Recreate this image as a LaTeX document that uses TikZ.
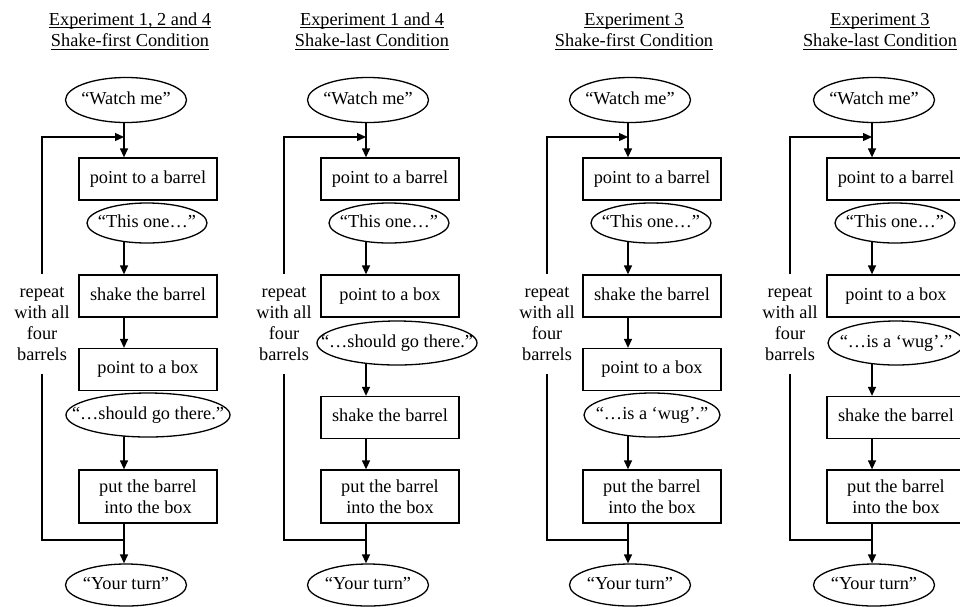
\documentclass[tikz,border=0pt]{standalone}
\usepackage{fontspec}
\setmainfont{Liberation Serif}
\usetikzlibrary{shapes.geometric,arrows.meta,calc}
\pgfdeclarelayer{bg}
\pgfsetlayers{bg,main}
\newcommand\ovt[1]{\makebox[0pt]{#1}}
\begin{document}
\begin{tikzpicture}[x=1pt,y=-1pt,
  every node/.style={font=\fontsize{18.3}{21}\selectfont},
  box/.style={draw, line width=1.3pt, fill=white, minimum width=138pt, minimum height=42pt, inner sep=0pt, text height=12.5pt, text depth=4.5pt},
  boxtwo/.style={draw, line width=1.3pt, fill=white, minimum width=138pt, minimum height=53pt, inner sep=0pt, align=center},
  oval/.style={draw, ellipse, line width=1.3pt, fill=white, inner sep=0pt, minimum height=42pt, text height=12.5pt, text depth=4.5pt},
  ttl/.style={anchor=base, inner sep=0pt},
  uline/.style={line width=0.9pt},
  rep/.style={align=center, inner sep=0pt, minimum height=100pt},
  arr/.style={line width=1.3pt, -{Triangle[length=9pt,width=8pt]}},
  ln/.style={line width=1.3pt}]
\clip (0,0) rectangle (960,606);

% ---------------- column 1 ----------------
\coordinate (a1) at (124,0);
\node[ttl] (t1a) at (130,25) {Experiment 1, 2 and 4};
\node[ttl] (t1b) at (130,46.5) {Shake-first Condition};
\node[oval, minimum width=121pt, minimum height=45pt] (w1) at (126,100) {\ovt{“Watch me”}};
\node[box] (p1) at (148,179) {point to a barrel};
\node[oval, minimum width=120pt, minimum height=40pt] (o1) at (147,223) {\ovt{“This one…”}};
\node[box] (s1) at (148,296) {shake the barrel};
\node[box] (x1) at (148,369.5) {point to a box};
\node[oval, minimum width=164pt, minimum height=44pt] (g1) at (148,415) {\ovt{“…should go there.”}};
\node[boxtwo] (u1) at (148,496.5) {put the barrel\\into the box};
\node[oval, minimum width=121pt] (y1) at (126,585) {\ovt{“Your turn”}};
\node[rep] (r1) at (42,324) {repeat\\with all\\four\\barrels};
\coordinate (j1) at (124,137);
\coordinate (k1) at (124,540);

% ---------------- column 2 ----------------
\coordinate (a2) at (366,0);
\node[ttl] (t2a) at (372,25) {Experiment 1 and 4};
\node[ttl] (t2b) at (372,46.5) {Shake-last Condition};
\node[oval, minimum width=121pt, minimum height=45pt] (w2) at (368,100) {\ovt{“Watch me”}};
\node[box] (p2) at (390,179) {point to a barrel};
\node[oval, minimum width=120pt, minimum height=40pt] (o2) at (389,223) {\ovt{“This one…”}};
\node[box] (x2) at (390,296) {point to a box};
\node[oval, minimum width=160pt, minimum height=44pt] (g2) at (397,343) {\ovt{“…should go there.”}};
\node[box] (s2) at (390,417.5) {shake the barrel};
\node[boxtwo] (u2) at (390,496.5) {put the barrel\\into the box};
\node[oval, minimum width=121pt] (y2) at (368,585) {\ovt{“Your turn”}};
\node[rep] (r2) at (284,324) {repeat\\with all\\four\\barrels};
\coordinate (j2) at (366,137);
\coordinate (k2) at (366,540);

% ---------------- column 3 ----------------
\coordinate (a3) at (628,0);
\node[ttl] (t3a) at (634,25) {Experiment 3};
\node[ttl] (t3b) at (634,46.5) {Shake-first Condition};
\node[oval, minimum width=121pt, minimum height=45pt] (w3) at (630,100) {\ovt{“Watch me”}};
\node[box] (p3) at (652,179) {point to a barrel};
\node[oval, minimum width=120pt, minimum height=40pt] (o3) at (651,223) {\ovt{“This one…”}};
\node[box] (s3) at (652,296) {shake the barrel};
\node[box] (x3) at (652,369.5) {point to a box};
\node[oval, minimum width=136pt, minimum height=44pt] (g3) at (652,415) {\ovt{“…is a ‘wug’.”}};
\node[boxtwo] (u3) at (652,496.5) {put the barrel\\into the box};
\node[oval, minimum width=121pt] (y3) at (630,585) {\ovt{“Your turn”}};
\node[rep] (r3) at (547,324) {repeat\\with all\\four\\barrels};
\coordinate (j3) at (628,137);
\coordinate (k3) at (628,540);

% ---------------- column 4 ----------------
\coordinate (a4) at (872,0);
\node[ttl] (t4a) at (880,25) {Experiment 3};
\node[ttl] (t4b) at (880,46.5) {Shake-last Condition};
\node[oval, minimum width=121pt, minimum height=45pt] (w4) at (874,100) {\ovt{“Watch me”}};
\node[box] (p4) at (896,179) {point to a barrel};
\node[oval, minimum width=120pt, minimum height=40pt] (o4) at (895,223) {\ovt{“This one…”}};
\node[box] (x4) at (896,296) {point to a box};
\node[oval, minimum width=136pt, minimum height=44pt] (g4) at (896,343) {\ovt{“…is a ‘wug’.”}};
\node[box] (s4) at (896,417.5) {shake the barrel};
\node[boxtwo] (u4) at (896,496.5) {put the barrel\\into the box};
\node[oval, minimum width=121pt] (y4) at (874,585) {\ovt{“Your turn”}};
\node[rep] (r4) at (790,324) {repeat\\with all\\four\\barrels};
\coordinate (j4) at (872,137);
\coordinate (k4) at (872,540);

% ---------------- underlines ----------------
\foreach \t in {t1a,t1b,t2a,t2b,t3a,t3b,t4a,t4b}
  \draw[uline] ($(\t.base west)+(0,2.5)$) -- ($(\t.base east)+(0,2.5)$);

% ---------------- connectors ----------------
\begin{pgfonlayer}{bg}
% shake-first columns
\foreach \c in {1,3} {
  \draw[arr] (w\c.center -| a\c) -- (p\c.north -| a\c);
  \draw[arr] (o\c.center -| a\c) -- (s\c.north -| a\c);
  \draw[arr] (s\c.south -| a\c) -- (x\c.north -| a\c);
  \draw[arr] (g\c.center -| a\c) -- (u\c.north -| a\c);
  \draw[arr] (u\c.south -| a\c) -- (y\c.north -| a\c);
}
% shake-last columns
\foreach \c in {2,4} {
  \draw[arr] (w\c.center -| a\c) -- (p\c.north -| a\c);
  \draw[arr] (o\c.center -| a\c) -- (x\c.north -| a\c);
  \draw[arr] (g\c.center -| a\c) -- (s\c.north -| a\c);
  \draw[arr] (s\c.south -| a\c) -- (u\c.north -| a\c);
  \draw[arr] (u\c.south -| a\c) -- (y\c.north -| a\c);
}
\end{pgfonlayer}
% feedback loops
\foreach \c in {1,2,3,4} {
  \draw[ln] (k\c) -| (r\c.south);
  \draw[arr] (r\c.north) |- (j\c);
}
\end{tikzpicture}
\end{document}
